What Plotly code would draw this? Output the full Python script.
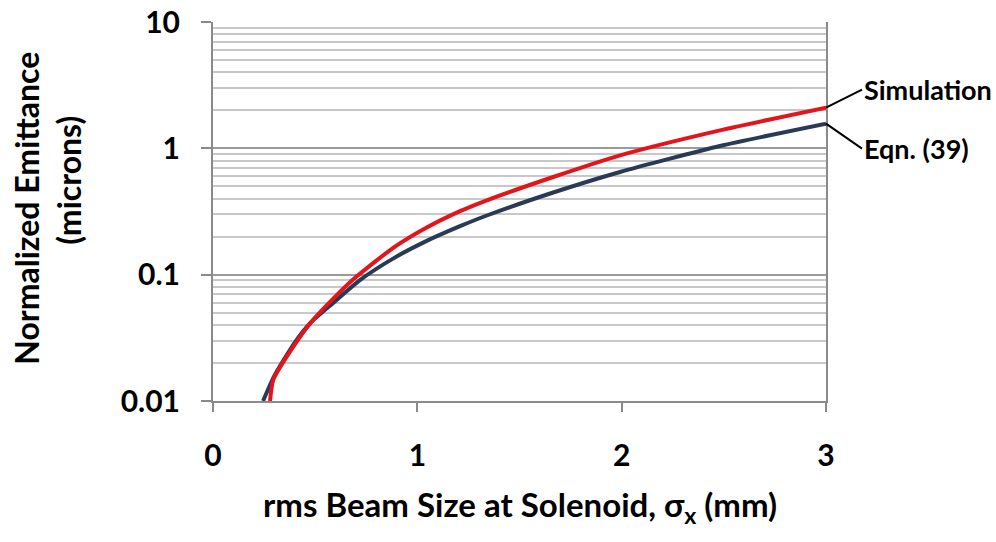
import math
import plotly.graph_objects as go

# Data
sim_x = [0.279, 0.295, 0.393, 0.475, 0.581, 0.687, 0.882, 1.046, 1.209, 1.340, 1.665, 1.992, 2.481, 3.0]
sim_y = [0.0100, 0.0147, 0.0269, 0.0411, 0.0628, 0.0920, 0.163, 0.236, 0.318, 0.388, 0.593, 0.880, 1.388, 2.10]

eqn_x = [0.245, 0.300, 0.400, 0.480, 0.587, 0.719, 0.881, 1.046, 1.209, 1.340, 1.665, 1.992, 2.481, 3.0]
eqn_y = [0.0100, 0.0158, 0.0290, 0.0420, 0.0595, 0.0905, 0.134, 0.185, 0.242, 0.294, 0.447, 0.650, 1.043, 1.567]

x_ticks = [0, 1, 2, 3]
y_ticks = [0.01, 0.1, 1, 10]
y_ticktext = ["0.01", "0.1", "1", "10"]
y_minor = [m * d for d in [0.01, 0.1, 1] for m in range(2, 10)]

FONT = "Lato"
RED = "#e3141b"
NAVY = "#2a3a55"
GRID = "#c8c8c8"
AXIS = "#8a8a8a"

# plot-area pixel frame (for converting title positions into paper units)
L, R, T, B = 213, 826, 22, 401.5
W, H = 996, 542
def px(xp):
    return (xp - L) / (R - L)
def py(yp):
    return (B - yp) / (B - T)

fig = go.Figure()
fig.add_trace(go.Scatter(x=eqn_x, y=eqn_y, mode="lines", name="Eqn. (39)",
                         line=dict(color=NAVY, width=4, shape="spline", smoothing=0.6)))
fig.add_trace(go.Scatter(x=sim_x, y=sim_y, mode="lines", name="Simulation",
                         line=dict(color=RED, width=4, shape="spline", smoothing=0.6)))

fig.update_layout(
    width=W, height=H,
    margin=dict(l=L, r=W - R, t=T, b=H - B, autoexpand=False),
    paper_bgcolor="white", plot_bgcolor="white",
    showlegend=False,
    font=dict(family=FONT, size=22, color="black"),
    xaxis=dict(range=[0, 3], tickvals=x_ticks, ticks="outside", ticklen=9, tickwidth=1.5,
               tickcolor=AXIS, showline=True, linecolor=AXIS, linewidth=2, showgrid=False,
               zeroline=False, ticklabelstandoff=18, automargin=False,
               tickfont=dict(family=FONT, size=30, color="black", weight="bold")),
    yaxis=dict(type="log", range=[-2, 1], tickvals=y_ticks, ticktext=y_ticktext,
               ticks="outside", ticklen=10, tickwidth=2, tickcolor=AXIS,
               showline=True, linecolor=AXIS, linewidth=2, mirror=True,
               showgrid=True, gridcolor="#9a9a9a", gridwidth=2, zeroline=False,
               ticklabelstandoff=15, automargin=False,
               tickfont=dict(family=FONT, size=30, color="black", weight="bold")),
)
fig.update_yaxes(minor=dict(tickvals=y_minor, showgrid=True, gridcolor=GRID, gridwidth=1.5, ticks=""))

annos = [
    dict(x=1, y=math.log10(sim_y[-1]), xref="paper", yref="y", text="<b>Simulation</b>",
         showarrow=True, arrowhead=0, arrowwidth=2, arrowcolor="black", ax=36, ay=-18,
         xanchor="left", font=dict(family=FONT, size=27, color="black")),
    dict(x=1, y=math.log10(eqn_y[-1]), xref="paper", yref="y", text="<b>Eqn. (39)</b>",
         showarrow=True, arrowhead=0, arrowwidth=2, arrowcolor="black", ax=36, ay=25,
         xanchor="left", font=dict(family=FONT, size=27, color="black")),
    dict(x=px(520), y=py(507), xref="paper", yref="paper",
         text="<b>rms Beam Size at Solenoid, σ<sub>x</sub> (mm)</b>", showarrow=False,
         xanchor="center", yanchor="middle", font=dict(family=FONT, size=33, color="black")),
    dict(x=px(27), y=py(209), xref="paper", yref="paper",
         text="<b>Normalized Emittance</b>", textangle=-90, showarrow=False,
         xanchor="center", yanchor="middle", font=dict(family=FONT, size=32, color="black")),
    dict(x=px(69), y=py(181), xref="paper", yref="paper",
         text="<b>(microns)</b>", textangle=-90, showarrow=False,
         xanchor="center", yanchor="middle", font=dict(family=FONT, size=32, color="black")),
]
fig.update_layout(annotations=annos)

fig.write_html("out.html")
